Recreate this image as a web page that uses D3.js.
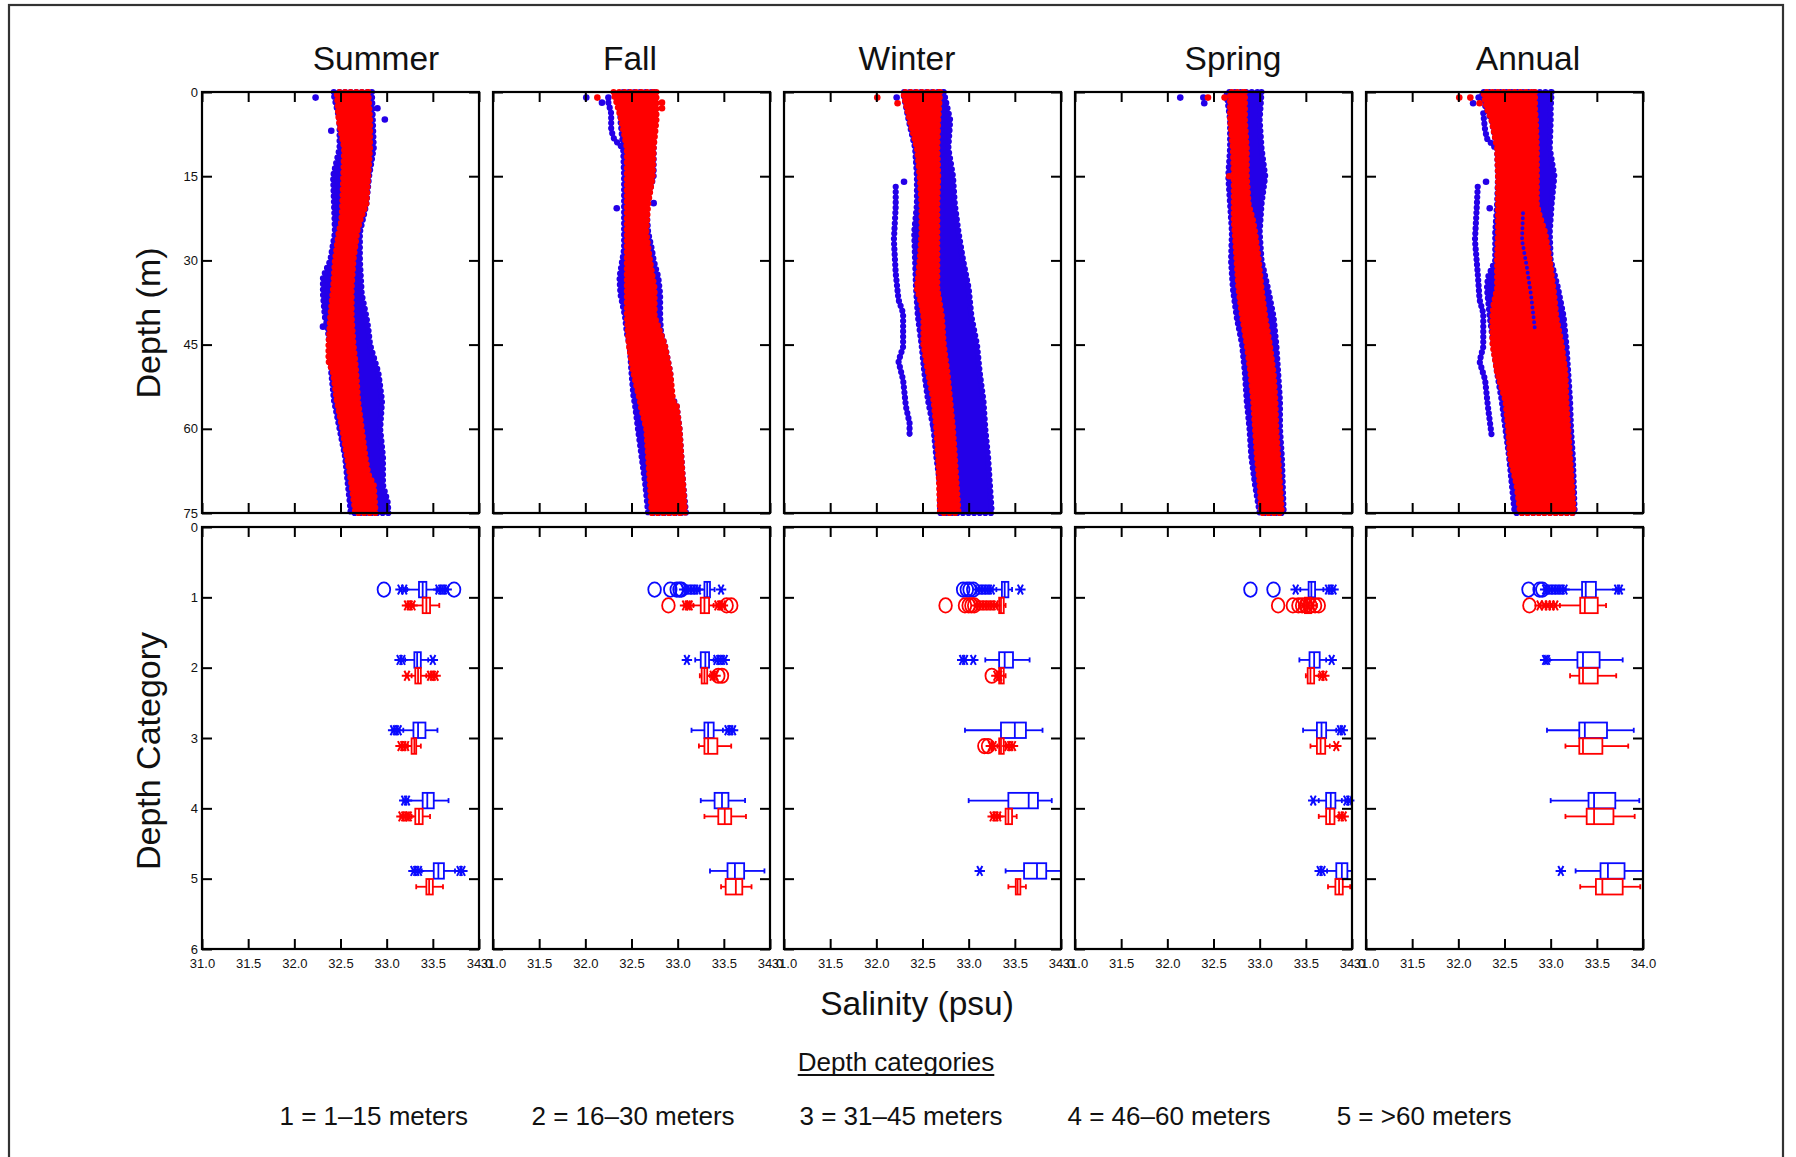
<!DOCTYPE html>
<html>
<head>
<meta charset="utf-8">
<script src="https://cdn.jsdelivr.net/npm/d3@7"></script>
<style>
  html, body { margin: 0; padding: 0; background: #fff; }
  svg { display: block; }
  text { font-family: "Liberation Sans", Arial, Helvetica, sans-serif; fill: #111; }
</style>
</head>
<body>
<svg id="chart" width="1796" height="1157"></svg>
<script>
// ---------------------------------------------------------------------------
// Data: salinity (psu) profiles and depth-category box plots, two stations
// (blue / red) for each season and for the whole year.
// ---------------------------------------------------------------------------
const seasons = ["Summer", "Fall", "Winter", "Spring", "Annual"];
const salinityTicks = [31.0, 31.5, 32.0, 32.5, 33.0, 33.5, 34.0];
const depthTicks = [0, 15, 30, 45, 60, 75];
const categoryTicks = [0, 1, 2, 3, 4, 5, 6];
const legendLabels = ["1 = 1\u201315 meters", "2 = 16\u201330 meters", "3 = 31\u201345 meters",
                      "4 = 46\u201360 meters", "5 = >60 meters"];

// Observed salinity range per depth: [depth m, min psu, max psu]
const summerBlueBand = [[0,32.42,32.84],[5,32.49,32.85],[10,32.49,32.86],[15,32.42,32.81],[20,32.43,32.78],[25,32.44,32.71],[30,32.39,32.71],[33,32.31,32.72],[36,32.31,32.73],[40,32.33,32.78],[42,32.36,32.80],[45,32.38,32.82],[50,32.40,32.91],[55,32.43,32.95],[60,32.49,32.93],[65,32.55,32.96],[70,32.58,32.96],[73,32.60,33.01],[75,32.61,33.02]];
const summerRedBand = [[0,32.46,32.80],[5,32.48,32.82],[10,32.54,32.82],[15,32.53,32.80],[20,32.52,32.78],[23,32.51,32.71],[25,32.48,32.68],[30,32.44,32.64],[35,32.42,32.62],[40,32.39,32.62],[45,32.37,32.64],[48,32.37,32.66],[50,32.42,32.67],[55,32.46,32.69],[60,32.52,32.73],[65,32.57,32.77],[68,32.60,32.80],[70,32.62,32.86],[75,32.66,32.88]];
const fallBlueBand = [[0,32.38,32.75],[5,32.38,32.75],[10,32.41,32.74],[15,32.42,32.74],[20,32.42,32.66],[25,32.42,32.68],[28,32.42,32.72],[30,32.40,32.74],[33,32.37,32.79],[36,32.38,32.81],[40,32.43,32.81],[43,32.45,32.82],[45,32.48,32.86],[50,32.50,32.92],[54,32.52,32.93],[56,32.54,32.99],[60,32.57,33.02],[65,32.61,33.04],[70,32.65,33.06],[75,32.68,33.09]];
const fallRedBand = [[0,32.30,32.77],[2,32.34,32.77],[5,32.39,32.77],[10,32.45,32.74],[15,32.45,32.73],[20,32.45,32.68],[25,32.45,32.66],[30,32.45,32.70],[35,32.45,32.75],[40,32.45,32.75],[45,32.47,32.86],[50,32.52,32.92],[55,32.59,32.95],[56,32.60,32.99],[60,32.66,33.02],[65,32.68,33.04],[70,32.70,33.06],[75,32.72,33.08]];
const winterBlueBand = [[0,32.29,32.73],[5,32.35,32.80],[10,32.42,32.78],[15,32.44,32.83],[20,32.44,32.85],[25,32.41,32.89],[30,32.42,32.94],[35,32.43,33.00],[40,32.45,33.03],[45,32.49,33.09],[50,32.52,33.12],[55,32.56,33.16],[60,32.62,33.18],[65,32.65,33.21],[70,32.69,33.23],[75,32.69,33.25]];
const winterRedBand = [[0,32.29,32.69],[5,32.36,32.67],[10,32.44,32.66],[15,32.47,32.67],[20,32.49,32.66],[25,32.49,32.66],[30,32.47,32.66],[35,32.44,32.66],[38,32.49,32.69],[40,32.51,32.71],[45,32.51,32.73],[50,32.56,32.77],[55,32.62,32.80],[60,32.65,32.83],[65,32.67,32.85],[70,32.68,32.87],[75,32.69,32.89]];
const springBlueBand = [[0,32.64,33.02],[5,32.68,33.00],[10,32.68,33.02],[15,32.66,33.06],[20,32.68,33.02],[25,32.70,33.00],[30,32.69,33.02],[35,32.71,33.09],[40,32.75,33.15],[45,32.81,33.18],[50,32.84,33.20],[55,32.86,33.22],[60,32.89,33.22],[65,32.91,33.24],[70,32.95,33.25],[75,33.00,33.26]];
const springRedBand = [[0,32.68,32.84],[5,32.68,32.84],[10,32.71,32.86],[15,32.72,32.86],[20,32.72,32.88],[23,32.72,32.93],[25,32.73,32.95],[30,32.75,32.99],[35,32.77,33.02],[40,32.81,33.06],[45,32.86,33.11],[50,32.90,33.15],[55,32.93,33.17],[60,32.95,33.18],[65,32.97,33.20],[70,33.00,33.22],[75,33.02,33.24]];
const annualBlueBand = [[0,32.25,33.01],[3,32.30,33.00],[5,32.36,33.00],[10,32.42,32.99],[15,32.43,33.04],[20,32.42,33.01],[25,32.40,32.99],[30,32.40,33.00],[33,32.32,33.05],[35,32.31,33.08],[40,32.34,33.14],[45,32.38,33.17],[50,32.42,33.19],[55,32.47,33.21],[60,32.51,33.22],[65,32.55,33.24],[70,32.58,33.25],[75,32.61,33.26]];
const annualRedBand = [[0,32.27,32.83],[3,32.31,32.83],[5,32.36,32.84],[10,32.42,32.85],[15,32.43,32.85],[20,32.43,32.85],[22,32.43,32.88],[25,32.43,32.94],[30,32.42,32.99],[35,32.42,33.03],[38,32.38,33.05],[40,32.37,33.06],[45,32.37,33.12],[50,32.42,33.16],[55,32.51,33.17],[60,32.54,33.19],[65,32.56,33.21],[70,32.63,33.23],[75,32.67,33.25]];

// Isolated readings: [salinity psu, depth m]
const summerBlueDots = [[32.23,1],[32.90,2.9],[32.98,4.9],[32.40,6.9],[32.31,41.8]];
const summerRedDots = [];
const fallBlueDots = [[32.01,1],[32.18,1.9],[32.25,1],[32.34,20.7],[32.74,19.8]];
const fallRedDots = [[32.13,1],[32.83,1.9],[32.83,2.9]];
const winterBlueDots = [[32.22,1],[32.30,16],[32.62,59.6]];
const winterRedDots = [[32.01,1],[32.23,2]];
const springBlueDots = [[32.14,1],[32.39,1],[32.40,2]];
const springRedDots = [[32.44,1],[32.62,1],[32.67,15]];
const annualBlueDots = [[32.22,1],[32.16,2],[32.30,16],[32.34,20.7]];
const annualRedDots = [[32.01,1],[32.13,1],[32.23,2]];

// Single casts that stand apart from the main cloud: [salinity psu, depth m]
const fallBlueCast = [[32.25,1.9],[32.28,3.8],[32.28,6.8],[32.31,8.3],[32.35,9.1],[32.41,10]];
const winterBlueCast = [[32.21,16.9],[32.21,20.4],[32.19,26.4],[32.21,32.3],[32.24,37],[32.29,39.4],[32.29,45.4],[32.24,48],[32.29,51.3],[32.32,56],[32.36,59],[32.36,61.1]];
const annualBlueFallCast = [[32.27,3.8],[32.29,6.8],[32.31,8.3],[32.42,10.3]];
const annualBlueWinterCast = [[32.21,16.9],[32.20,20.4],[32.18,26.4],[32.21,32.3],[32.23,37],[32.27,39.4],[32.27,45.4],[32.23,48],[32.29,51.3],[32.32,56],[32.36,61.1]];
const annualBlueInnerCast = [[32.70,21.6],[32.69,26.4],[32.74,31],[32.79,36.5],[32.83,42.4]];

// Box plots: [category, lower whisker, Q1, median, Q3, upper whisker]
// Outliers: [category, salinity]; stars = outside values, rings = far outside values
const summerBlueBox = [[1,33.22,33.35,33.39,33.43,33.54],[2,33.20,33.30,33.33,33.37,33.45],[3,33.18,33.29,33.34,33.42,33.55],[4,33.23,33.39,33.44,33.51,33.67],[5,33.38,33.51,33.56,33.62,33.74]];
const summerBlueStars = [[1,33.15],[1,33.19],[1,33.56],[1,33.59],[1,33.62],[1,33.65],[2,33.14],[2,33.17],[2,33.50],[3,33.07],[3,33.10],[3,33.13],[4,33.19],[4,33.22],[5,33.29],[5,33.32],[5,33.35],[5,33.79],[5,33.82]];
const summerBlueRings = [[1,32.97],[1,33.73]];
const summerRedBox = [[1,33.29,33.39,33.43,33.47,33.57],[2,33.27,33.31,33.34,33.37,33.43],[3,33.23,33.27,33.30,33.32,33.37],[4,33.27,33.31,33.35,33.39,33.47],[5,33.32,33.43,33.46,33.50,33.61]];
const summerRedStars = [[1,33.22],[1,33.25],[1,33.28],[2,33.22],[2,33.47],[2,33.50],[2,33.53],[3,33.15],[3,33.18],[3,33.21],[4,33.16],[4,33.19],[4,33.22],[4,33.24]];
const summerRedRings = [];

const fallBlueBox = [[1,33.24,33.29,33.32,33.35,33.40],[2,33.19,33.25,33.30,33.34,33.39],[3,33.15,33.29,33.33,33.39,33.49],[4,33.25,33.40,33.48,33.55,33.73],[5,33.35,33.54,33.62,33.72,33.94]];
const fallBlueStars = [[1,33.07],[1,33.10],[1,33.13],[1,33.16],[1,33.19],[1,33.22],[1,33.47],[2,33.10],[2,33.42],[2,33.45],[2,33.48],[2,33.51],[3,33.54],[3,33.57],[3,33.60]];
const fallBlueRings = [[1,32.75],[1,32.92],[1,32.99],[1,33.02],[1,33.04]];
const fallRedBox = [[1,33.17,33.25,33.29,33.34,33.39],[2,33.24,33.26,33.29,33.32,33.35],[3,33.23,33.29,33.33,33.43,33.58],[4,33.29,33.44,33.51,33.58,33.74],[5,33.47,33.52,33.63,33.70,33.80]];
const fallRedStars = [[1,33.08],[1,33.11],[1,33.13],[1,33.43],[1,33.46],[1,33.49],[2,33.38],[2,33.41]];
const fallRedRings = [[1,32.90],[1,33.53],[1,33.58],[2,33.44],[2,33.48]];

const winterBlueBox = [[1,33.30,33.36,33.39,33.43,33.47],[2,33.18,33.33,33.39,33.48,33.66],[3,32.96,33.35,33.50,33.62,33.80],[4,33.00,33.43,33.65,33.75,33.90],[5,33.40,33.60,33.74,33.84,34.00]];
const winterBlueStars = [[1,33.10],[1,33.13],[1,33.16],[1,33.19],[1,33.22],[1,33.25],[1,33.56],[2,32.93],[2,32.96],[2,33.05],[5,33.12]];
const winterBlueRings = [[1,32.94],[1,32.98],[1,33.01],[1,33.05]];
const winterRedBox = [[1,33.31,33.33,33.35,33.38,33.40],[2,33.31,33.33,33.35,33.38,33.40],[3,33.31,33.33,33.35,33.38,33.40],[4,33.34,33.40,33.43,33.47,33.52],[5,33.43,33.51,33.53,33.56,33.62]];
const winterRedStars = [[1,33.08],[1,33.11],[1,33.14],[1,33.17],[1,33.20],[1,33.23],[1,33.26],[1,33.29],[2,33.30],[2,33.33],[3,33.24],[3,33.27],[3,33.42],[3,33.45],[3,33.48],[4,33.26],[4,33.29],[4,33.32]];
const winterRedRings = [[1,32.75],[1,32.96],[1,33.00],[1,33.03],[1,33.06],[2,33.25],[3,33.17],[3,33.21]];

const springBlueBox = [[1,33.44,33.53,33.56,33.60,33.69],[2,33.43,33.54,33.59,33.65,33.72],[3,33.47,33.62,33.67,33.72,33.83],[4,33.64,33.72,33.77,33.82,33.89],[5,33.73,33.83,33.89,33.95,34.00]];
const springBlueStars = [[1,33.39],[1,33.74],[1,33.77],[1,33.80],[2,33.78],[3,33.87],[3,33.90],[4,33.58],[4,33.94],[4,33.97],[5,33.65],[5,33.68]];
const springBlueRings = [[1,32.90],[1,33.15]];
const springRedBox = [[1,33.44,33.49,33.52,33.56,33.62],[2,33.50,33.52,33.55,33.59,33.64],[3,33.55,33.62,33.66,33.71,33.76],[4,33.64,33.72,33.76,33.81,33.85],[5,33.74,33.82,33.86,33.90,33.98]];
const springRedStars = [[1,33.47],[1,33.52],[1,33.57],[2,33.67],[2,33.70],[3,33.83],[4,33.88],[4,33.91]];
const springRedRings = [[1,33.20],[1,33.36],[1,33.42],[1,33.46],[1,33.50],[1,33.55],[1,33.60],[1,33.64]];

const annualBlueBox = [[1,33.16,33.34,33.38,33.49,33.71],[2,32.99,33.29,33.35,33.53,33.78],[3,32.96,33.31,33.37,33.61,33.90],[4,33.00,33.41,33.47,33.70,33.96],[5,33.27,33.54,33.62,33.80,34.00]];
const annualBlueStars = [[1,32.94],[1,32.97],[1,33.00],[1,33.03],[1,33.06],[1,33.09],[1,33.12],[1,33.15],[1,33.72],[1,33.75],[2,32.94],[2,32.96],[5,33.11]];
const annualBlueRings = [[1,32.76],[1,32.88],[1,32.91]];
const annualRedBox = [[1,33.10,33.32,33.37,33.51,33.60],[2,33.21,33.31,33.35,33.51,33.71],[3,33.16,33.31,33.35,33.56,33.84],[4,33.16,33.39,33.47,33.68,33.91],[5,33.32,33.49,33.56,33.78,33.97]];
const annualRedStars = [[1,32.88],[1,32.93],[1,32.97],[1,33.01],[1,33.05]];
const annualRedRings = [[1,32.77]];

// Per-panel tables assembled from the arrays above
const panels = [
  { name: seasons[0],
    blue: { band: summerBlueBand, dots: summerBlueDots, casts: [], box: summerBlueBox, stars: summerBlueStars, rings: summerBlueRings },
    red:  { band: summerRedBand,  dots: summerRedDots,  box: summerRedBox, stars: summerRedStars, rings: summerRedRings },
    overCasts: [] },
  { name: seasons[1],
    blue: { band: fallBlueBand, dots: fallBlueDots, casts: [fallBlueCast], box: fallBlueBox, stars: fallBlueStars, rings: fallBlueRings },
    red:  { band: fallRedBand,  dots: fallRedDots,  box: fallRedBox, stars: fallRedStars, rings: fallRedRings },
    overCasts: [] },
  { name: seasons[2],
    blue: { band: winterBlueBand, dots: winterBlueDots, casts: [winterBlueCast], box: winterBlueBox, stars: winterBlueStars, rings: winterBlueRings },
    red:  { band: winterRedBand,  dots: winterRedDots,  box: winterRedBox, stars: winterRedStars, rings: winterRedRings },
    overCasts: [] },
  { name: seasons[3],
    blue: { band: springBlueBand, dots: springBlueDots, casts: [], box: springBlueBox, stars: springBlueStars, rings: springBlueRings },
    red:  { band: springRedBand,  dots: springRedDots,  box: springRedBox, stars: springRedStars, rings: springRedRings },
    overCasts: [] },
  { name: seasons[4],
    blue: { band: annualBlueBand, dots: annualBlueDots, casts: [annualBlueFallCast, annualBlueWinterCast], box: annualBlueBox, stars: annualBlueStars, rings: annualBlueRings },
    red:  { band: annualRedBand,  dots: annualRedDots,  box: annualRedBox, stars: annualRedStars, rings: annualRedRings },
    overCasts: [annualBlueInnerCast] }
];

// ---------------------------------------------------------------------------
// Layout
// ---------------------------------------------------------------------------
const FONT = '"Liberation Sans", Arial, Helvetica, sans-serif';
const panelLeft0 = 202, panelStep = 291, panelW = 277;
const topY0 = 92, topY1 = 513, botY0 = 527, botY1 = 949;
const titleCenters = [376, 630, 907, 1233, 1528];
const legendStarts = [279.5, 531.5, 799.5, 1067.5, 1336.7];
const scatterBlue = "#2400e8", scatterRed = "#ff0000";
const boxBlue = "#0a0aff", boxRed = "#ff0000";
const tickLen = 10;

const svg = d3.select("#chart");

// Figure border
svg.append("rect")
  .attr("x", 9).attr("y", 5).attr("width", 1774).attr("height", 1170)
  .attr("fill", "none").attr("stroke", "#333").attr("stroke-width", 2.2);

const yDepth = d3.scaleLinear().domain([0, 75]).range([topY0, topY1]);
const yCat = d3.scaleLinear().domain([0, 6]).range([botY0, botY1]);

const area = (x) => d3.area()
  .y(d => yDepth(d[0]))
  .x0(d => x(d[1]))
  .x1(d => x(d[2]));

function drawFrameAxes(g, x, y, yTicks, showY, showX, yFormat) {
  const xTop = d3.axisTop(x).tickValues(salinityTicks).tickSize(-tickLen).tickFormat("");
  const xBot = d3.axisBottom(x).tickValues(salinityTicks).tickSize(-tickLen).tickPadding(10)
    .tickFormat(showX ? d3.format(".1f") : "");
  const yL = d3.axisLeft(y).tickValues(yTicks).tickSize(-tickLen).tickPadding(4)
    .tickFormat(showY ? yFormat : "");
  const yR = d3.axisRight(y).tickValues(yTicks).tickSize(-tickLen).tickFormat("");
  const [r0, r1] = y.range();
  const [x0, x1] = x.range();
  const add = (axis, tx, ty) => {
    const a = g.append("g").attr("transform", `translate(${tx},${ty})`).call(axis);
    a.select(".domain").remove();
    a.selectAll(".tick line").attr("stroke", "#000").attr("stroke-width", 2);
    a.selectAll(".tick text").attr("font-family", FONT).attr("font-size", 13).attr("fill", "#111");
    return a;
  };
  add(xTop, 0, r0);
  add(xBot, 0, r1);
  add(yL, x0, 0);
  add(yR, x1, 0);
  g.append("rect")
    .attr("x", x0).attr("y", r0).attr("width", x1 - x0).attr("height", r1 - r0)
    .attr("fill", "none").attr("stroke", "#000").attr("stroke-width", 2.2);
}

function starPath(cx, cy, r) {
  const p = [];
  for (let k = 0; k < 3; k++) {
    const a = k * Math.PI / 3;
    const dx = Math.cos(a) * r, dy = Math.sin(a) * r * 1.1;
    p.push(`M${cx - dx},${cy - dy}L${cx + dx},${cy + dy}`);
  }
  return p.join("");
}

panels.forEach((pan, i) => {
  const left = panelLeft0 + i * panelStep;
  const x = d3.scaleLinear().domain([31, 34]).range([left, left + panelW]);

  // --- Depth profile panel ---
  const gt = svg.append("g");
  const plotSeries = (s, color) => {
    // solid cloud of readings, outlined by a chain of dots
    gt.append("path").datum(s.band)
      .attr("d", area(x))
      .attr("fill", color).attr("stroke", color).attr("stroke-width", 1.5)
      .attr("stroke-linejoin", "round");
    gt.append("path").datum(s.band)
      .attr("d", area(x))
      .attr("fill", "none").attr("stroke", color).attr("stroke-width", 6.2)
      .attr("stroke-linecap", "round").attr("stroke-dasharray", "0 5.6");
    (s.casts || []).forEach(c => {
      gt.append("path").datum(c)
        .attr("d", d3.line().x(d => x(d[0])).y(d => yDepth(d[1])))
        .attr("fill", "none").attr("stroke", color).attr("stroke-width", 6.2)
        .attr("stroke-linecap", "round").attr("stroke-linejoin", "round")
        .attr("stroke-dasharray", "0 5.2");
      gt.append("path").datum(c)
        .attr("d", d3.line().x(d => x(d[0])).y(d => yDepth(d[1])))
        .attr("fill", "none").attr("stroke", color).attr("stroke-width", 3.5)
        .attr("stroke-linecap", "round").attr("stroke-linejoin", "round");
    });
    gt.selectAll(null).data(s.dots).join("circle")
      .attr("cx", d => x(d[0])).attr("cy", d => yDepth(d[1])).attr("r", 3.3)
      .attr("fill", color);
  };
  plotSeries(pan.blue, scatterBlue);
  plotSeries(pan.red, scatterRed);
  pan.overCasts.forEach(c => {
    gt.append("path").datum(c)
      .attr("d", d3.line().x(d => x(d[0])).y(d => yDepth(d[1])))
      .attr("fill", "none").attr("stroke", scatterBlue).attr("stroke-width", 4)
      .attr("stroke-linecap", "round").attr("stroke-dasharray", "0 5");
  });
  drawFrameAxes(gt, x, yDepth, depthTicks, i === 0, false, d3.format("d"));

  // --- Box plot panel ---
  const gb = svg.append("g");
  const boxHalf = (yCat(0.11) - yCat(0));
  const drawBoxes = (s, color, offset) => {
    const g = gb.append("g").attr("stroke", color).attr("fill", "none").attr("stroke-width", 1.8);
    s.box.forEach(b => {
      const [cat, lo, q1, med, q3, hi] = b;
      const cy = yCat(cat + offset);
      g.append("line").attr("x1", x(lo)).attr("x2", x(q1)).attr("y1", cy).attr("y2", cy);
      g.append("line").attr("x1", x(q3)).attr("x2", x(hi)).attr("y1", cy).attr("y2", cy);
      g.append("line").attr("x1", x(lo)).attr("x2", x(lo)).attr("y1", cy - 2.5).attr("y2", cy + 2.5);
      g.append("line").attr("x1", x(hi)).attr("x2", x(hi)).attr("y1", cy - 2.5).attr("y2", cy + 2.5);
      g.append("rect").attr("x", x(q1)).attr("y", cy - boxHalf)
        .attr("width", x(q3) - x(q1)).attr("height", 2 * boxHalf);
      g.append("line").attr("x1", x(med)).attr("x2", x(med)).attr("y1", cy - boxHalf).attr("y2", cy + boxHalf);
    });
    s.stars.forEach(d => {
      g.append("path").attr("d", starPath(x(d[1]), yCat(d[0] + offset), 5.2))
        .attr("stroke-width", 2);
    });
    s.rings.forEach(d => {
      g.append("ellipse").attr("cx", x(d[1])).attr("cy", yCat(d[0] + offset))
        .attr("rx", 6.3).attr("ry", 7.2).attr("stroke-width", 1.8);
    });
  };
  drawBoxes(pan.blue, boxBlue, -0.11);
  drawBoxes(pan.red, boxRed, 0.115);
  drawFrameAxes(gb, x, yCat, categoryTicks, i === 0, true, d3.format("d"));

  // Panel title
  svg.append("text")
    .attr("x", titleCenters[i]).attr("y", 70)
    .attr("text-anchor", "middle").attr("font-size", 33.5)
    .text(pan.name);
});

// Axis titles
svg.append("text")
  .attr("transform", "translate(160,323) rotate(-90)")
  .attr("text-anchor", "middle").attr("font-size", 34)
  .text("Depth (m)");
svg.append("text")
  .attr("transform", "translate(160,751) rotate(-90)")
  .attr("text-anchor", "middle").attr("font-size", 34)
  .text("Depth Category");
svg.append("text")
  .attr("x", 917).attr("y", 1015)
  .attr("text-anchor", "middle").attr("font-size", 33.5)
  .text("Salinity (psu)");

// Depth category key
const keyTitle = svg.append("text")
  .attr("x", 896).attr("y", 1071)
  .attr("text-anchor", "middle").attr("font-size", 26)
  .text("Depth categories");
const kw = keyTitle.node().getComputedTextLength();
svg.append("line")
  .attr("x1", 896 - kw / 2).attr("x2", 896 + kw / 2)
  .attr("y1", 1075).attr("y2", 1075)
  .attr("stroke", "#111").attr("stroke-width", 1.8);

svg.selectAll(null).data(legendLabels).join("text")
  .attr("x", (d, i) => legendStarts[i]).attr("y", 1125)
  .attr("font-size", 26)
  .text(d => d);
</script>
</body>
</html>
